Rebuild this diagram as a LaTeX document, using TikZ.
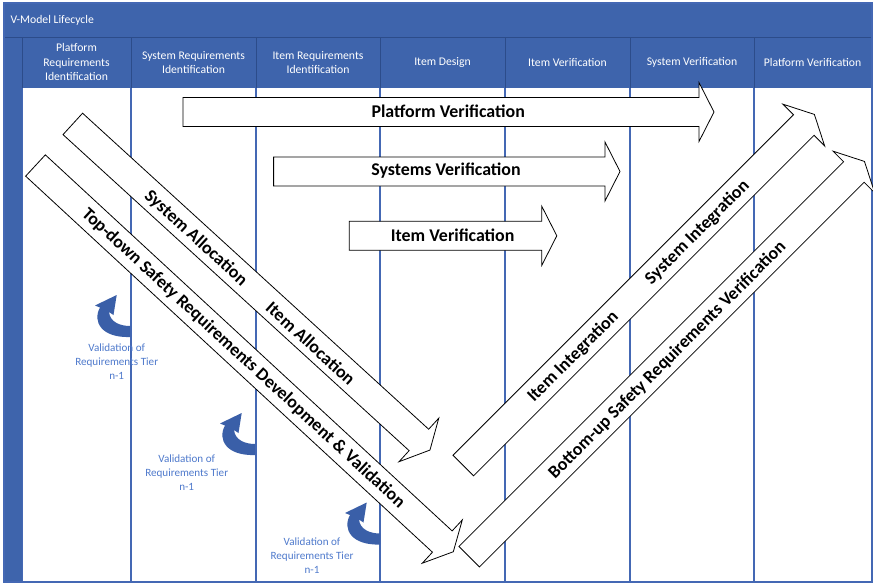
\documentclass[tikz,border=0pt]{standalone}
\usepackage{fontspec}
\setmainfont{Carlito}
\definecolor{hdr}{RGB}{62,100,172}
\definecolor{hdrline}{RGB}{44,76,138}
\definecolor{colline}{RGB}{68,104,180}
\definecolor{valtext}{RGB}{79,122,204}
\definecolor{curv}{RGB}{58,95,168}
\tikzset{
  blockarrow/.style={draw=black, fill=white, line width=0.8pt, line join=miter},
  arrowlabel/.style={font=\fontsize{17.9}{20}\selectfont\bfseries, inner sep=0pt},
  hdrtext/.style={font=\fontsize{11.7}{14.5}\selectfont, text=white, align=center},
  valtxt/.style={font=\fontsize{11.1}{14}\selectfont, text=valtext, align=center},
  pics/barrow/.style={code={
    \draw[blockarrow] (0,-14.5) -- (#1-15,-14.5) -- (#1-15,-29.5) -- (#1,0)
      -- (#1-15,29.5) -- (#1-15,14.5) -- (0,14.5) -- cycle;}},
  pics/curvarrow/.style={code={
    \fill[curv] (0,-6) .. controls (-10,-6) and (-20,-10) .. (-21,-20)
      -- (-16.5,-17) -- (-13.3,-37) -- (-35,-26.5) -- (-30,-24.5)
      .. controls (-38,-10) and (-28,6) .. (0,5) -- cycle;}}
}
\begin{document}
\begin{tikzpicture}[x=1pt,y=-1pt]
\useasboundingbox (0,0) rectangle (873,584);
\clip (0,0) rectangle (873,584);
\fill[white] (0,0) rectangle (873,584);
% swimlane frame
\fill[hdr] (4,3) rectangle (872,88);
\fill[hdr] (4,88) rectangle (22,582);
\draw[hdrline, line width=0.8pt] (4,37) -- (872,37);
\foreach \x in {22,131,256,380,505,630,754} {
  \draw[hdrline, line width=0.8pt] (\x,37) -- (\x,88);
}
\foreach \x in {131,256,380,505,630,754} {
  \draw[colline, line width=1.2pt] (\x,88) -- (\x,582);
}
\draw[colline, line width=0.8pt] (22,88) -- (22,582);
\draw[colline, line width=1.5pt] (4,3) rectangle (872,582);
% title and headers
\node[hdrtext, anchor=west] (title) at (7,20.5) {V-Model Lifecycle};
\node[hdrtext] (h1) at (76.5,62) {Platform\\Requirements\\Identification};
\node[hdrtext] (h2) at (193.5,62.5) {System Requirements\\Identification};
\node[hdrtext] (h3) at (318,62.5) {Item Requirements\\Identification};
\node[hdrtext] (h4) at (442.5,62) {Item Design};
\node[hdrtext] (h5) at (567.5,62) {Item Verification};
\node[hdrtext] (h6) at (692,62) {System Verification};
\node[hdrtext] (h7) at (812.5,62) {Platform Verification};
% validation loops
\pic at (130,332) {curvarrow};
\pic at (255,450) {curvarrow};
\pic at (380,539.5) {curvarrow};
\node[valtxt] (v1) at (116.7,361.3) {Validation of\\Requirements Tier\\n-1};
\node[valtxt] (v2) at (186.7,472.3) {Validation of\\Requirements Tier\\n-1};
\node[valtxt] (v3) at (312,555.7) {Validation of\\Requirements Tier\\n-1};
% horizontal verification arrows
\pic at (183,112) {barrow=531};
\pic at (273.6,171.5) {barrow=346.4};
\pic at (349.3,235.8) {barrow=207.5};
% diagonal arrows
\pic[rotate=-42.4] at (72.8,123.9) {barrow=483.7};
\pic[rotate=-42.75] at (35.5,165.5) {barrow=569};
\pic[rotate=45] at (463.3,465.5) {barrow=496.5};
\pic[rotate=45] at (469.2,556.7) {barrow=559};
% labels
\node[arrowlabel] (pv) at (448.2,111.5) {Platform Verification};
\node[arrowlabel] (sv) at (446,171) {Systems Verification};
\node[arrowlabel] (iv) at (452.7,235.2) {Item Verification};
\node[arrowlabel, rotate=-42.4] (sa) at (195.8,238.3) {System Allocation};
\node[arrowlabel, rotate=-42.4] (ia) at (310.8,343.3) {Item Allocation};
\node[arrowlabel, rotate=-42.75] (td) at (243.3,358.3) {Top-down Safety Requirements Development \& Validation};
\node[arrowlabel, rotate=45] (ii) at (573.3,356.7) {Item Integration};
\node[arrowlabel, rotate=45] (si) at (697.5,232.5) {System Integration};
\node[arrowlabel, rotate=45] (bu) at (667.5,360) {Bottom-up Safety Requirements Verification};
\end{tikzpicture}
\end{document}
